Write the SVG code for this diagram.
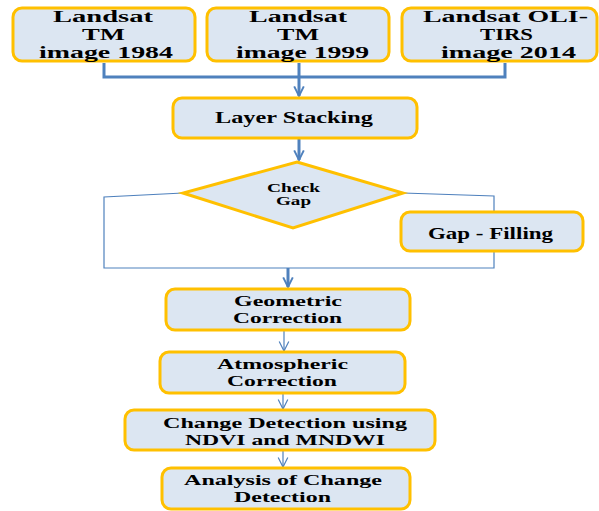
<svg xmlns="http://www.w3.org/2000/svg" width="599" height="511" viewBox="0 0 599 511">
<defs>
<style>
.box{fill:#DCE6F2;stroke:#FFC000;stroke-width:3}
.t{font-family:"Liberation Serif","Times New Roman",serif;font-weight:bold;fill:#000;text-anchor:start}
.thick{fill:none;stroke:#4F81BD;stroke-width:3}
.thin{fill:none;stroke:#4F81BD;stroke-width:1.2}
</style>
<marker id="ah" viewBox="0 0 10 10" refX="9" refY="5" markerWidth="4" markerHeight="4" orient="auto" markerUnits="strokeWidth">
<path d="M1,1 L9,5 L1,9" fill="none" stroke="#4F81BD" stroke-width="1.6"/>
</marker>
<marker id="ahs" viewBox="0 0 10 10" refX="9" refY="5" markerWidth="10" markerHeight="10" orient="auto" markerUnits="strokeWidth">
<path d="M1,1 L9,5 L1,9" fill="none" stroke="#4F81BD" stroke-width="1"/>
</marker>
</defs>
<rect width="599" height="511" fill="#fff"/>
<g id="connectors">
<path class="thick" d="M104,63 V77 H505 V63"/>
<path class="thick" d="M299,63 V96" marker-end="url(#ah)"/>
<path class="thick" d="M299,139 V160" marker-end="url(#ah)"/>
<path class="thin" d="M183,193 L104,197 V268 H494 V252"/>
<path class="thin" d="M403,193 L494,196 V212"/>
<path class="thick" d="M288,268 V287" marker-end="url(#ah)"/>
<path class="thin" d="M284,331 V351" marker-end="url(#ahs)"/>
<path class="thin" d="M283,394 V409" marker-end="url(#ahs)"/>
<path class="thin" d="M283,451 V467" marker-end="url(#ahs)"/>
</g>
<g id="n1">
<rect class="box" x="13" y="8" width="182" height="53" rx="9"/>
<text class="t" font-size="16.2" x="53" y="22" textLength="100" lengthAdjust="spacingAndGlyphs">Landsat</text>
<text class="t" font-size="16.2" x="82" y="40" textLength="43" lengthAdjust="spacingAndGlyphs">TM</text>
<text class="t" font-size="16.2" x="39" y="58" textLength="134" lengthAdjust="spacingAndGlyphs">image 1984</text>
</g>
<g id="n2">
<rect class="box" x="207" y="8" width="182" height="53" rx="9"/>
<text class="t" font-size="16.2" x="249" y="22" textLength="98" lengthAdjust="spacingAndGlyphs">Landsat</text>
<text class="t" font-size="16.2" x="277" y="40" textLength="42" lengthAdjust="spacingAndGlyphs">TM</text>
<text class="t" font-size="16.2" x="236" y="58" textLength="133" lengthAdjust="spacingAndGlyphs">image 1999</text>
</g>
<g id="n3">
<rect class="box" x="402" y="8" width="195" height="53" rx="9"/>
<text class="t" font-size="16.2" x="423" y="22" textLength="165" lengthAdjust="spacingAndGlyphs">Landsat OLI-</text>
<text class="t" font-size="16.2" x="480" y="40" textLength="53" lengthAdjust="spacingAndGlyphs">TIRS</text>
<text class="t" font-size="16.2" x="441" y="58" textLength="135" lengthAdjust="spacingAndGlyphs">image 2014</text>
</g>
<g id="n4">
<rect class="box" x="173" y="98" width="244" height="40" rx="9"/>
<text class="t" font-size="16" x="215" y="123" textLength="158" lengthAdjust="spacingAndGlyphs">Layer Stacking</text>
</g>
<g id="n5">
<polygon class="box" points="297,162 403,193 293,228 183,193"/>
<text class="t" font-size="12" x="267" y="192" textLength="53" lengthAdjust="spacingAndGlyphs">Check</text>
<text class="t" font-size="12" x="276" y="205" textLength="35" lengthAdjust="spacingAndGlyphs">Gap</text>
</g>
<g id="n6">
<rect class="box" x="401" y="212" width="182" height="39" rx="9"/>
<text class="t" font-size="16" x="428" y="239" textLength="125" lengthAdjust="spacingAndGlyphs">Gap - Filling</text>
</g>
<g id="n7">
<rect class="box" x="166" y="289" width="244" height="41" rx="9"/>
<text class="t" font-size="14.8" x="234" y="306" textLength="108" lengthAdjust="spacingAndGlyphs">Geometric</text>
<text class="t" font-size="14.8" x="233" y="323" textLength="109" lengthAdjust="spacingAndGlyphs">Correction</text>
</g>
<g id="n8">
<rect class="box" x="160" y="352" width="245" height="41" rx="9"/>
<text class="t" font-size="14.8" x="217" y="369" textLength="131" lengthAdjust="spacingAndGlyphs">Atmospheric</text>
<text class="t" font-size="14.8" x="227" y="386" textLength="110" lengthAdjust="spacingAndGlyphs">Correction</text>
</g>
<g id="n9">
<rect class="box" x="125" y="410" width="310" height="40" rx="9"/>
<text class="t" font-size="14.8" x="163" y="428" textLength="244" lengthAdjust="spacingAndGlyphs">Change Detection using</text>
<text class="t" font-size="14.8" x="185" y="445" textLength="200" lengthAdjust="spacingAndGlyphs">NDVI and MNDWI</text>
</g>
<g id="n10">
<rect class="box" x="162" y="468" width="248" height="41" rx="9"/>
<text class="t" font-size="14.8" x="184" y="485" textLength="198" lengthAdjust="spacingAndGlyphs">Analysis of Change</text>
<text class="t" font-size="14.8" x="234" y="502" textLength="97" lengthAdjust="spacingAndGlyphs">Detection</text>
</g>
</svg>
